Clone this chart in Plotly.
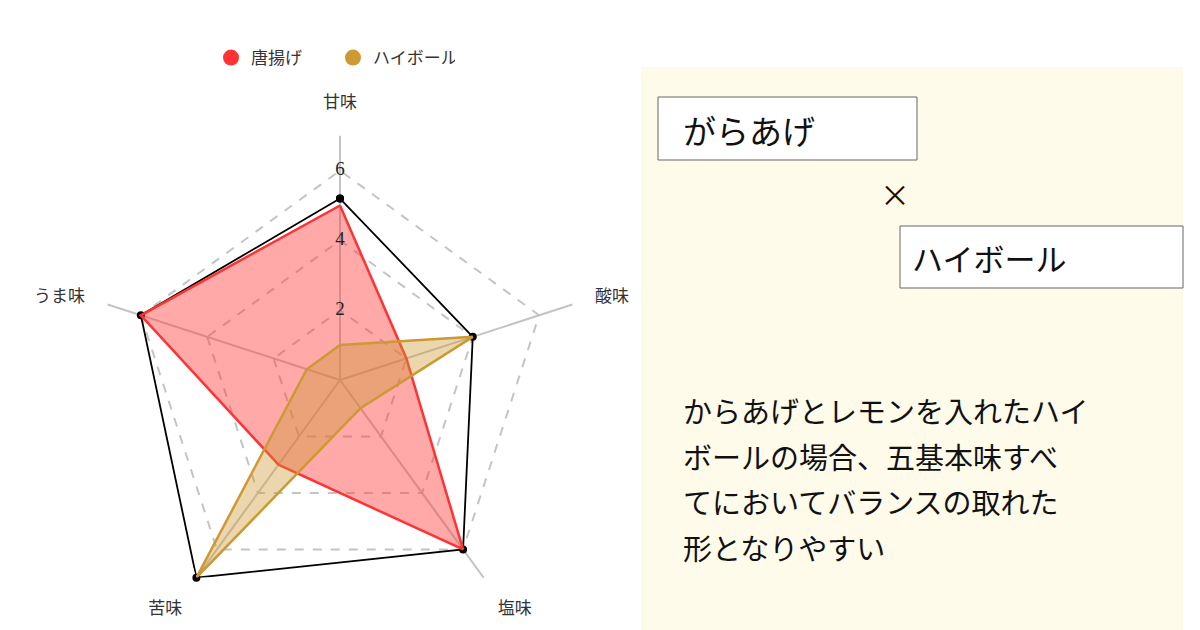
import plotly.graph_objects as go

# Data ------------------------------------------------------------------------
axes_labels = ['甘味', '酸味', '塩味', '苦味', 'うま味']
karaage = [5.0, 2.0, 6.0, 3.0, 6.0]
highball = [1.0, 4.0, 1.0, 7.0, 1.0]
outline = [5.2, 4.0, 6.0, 7.0, 6.0]
radial_ticks = [0, 2, 4, 6]
series_names = ['唐揚げ', 'ハイボール']
body_lines = [
    'からあげとレモンを入れたハイ',
    'ボールの場合、五基本味すべ',
    'てにおいてバランスの取れた',
    '形となりやすい',
]

# Style -----------------------------------------------------------------------
RED = '#ff3333'
GOLD = '#cc9933'
SERIF = 'Liberation Serif, Noto Sans CJK JP, serif'
SANS = 'Noto Sans CJK JP, sans-serif'
# page body has an 8px margin, so the figure is a bit smaller than the window
OFF = 8
W, H = 1200 - OFF, 630 - OFF


def px(x, y):
    # screen pixel -> paper coords
    return (x - OFF) / W, 1 - (y - OFF) / H


def closed(v):
    return list(v) + [v[0]]


theta = closed(axes_labels)

fig = go.Figure()
# black outline with dots
fig.add_trace(go.Scatterpolar(
    r=closed(outline), theta=theta, mode='lines+markers',
    line=dict(color='black', width=1.8),
    marker=dict(color='black', size=8),
    showlegend=False, cliponaxis=False, hoverinfo='skip'
))
fig.add_trace(go.Scatterpolar(
    r=closed(karaage), theta=theta, mode='lines', fill='toself',
    fillcolor='rgba(255,51,51,0.42)', line=dict(color=RED, width=2.5),
    name=series_names[0], legendgroup='a', showlegend=False
))
fig.add_trace(go.Scatterpolar(
    r=closed(highball), theta=theta, mode='lines', fill='toself',
    fillcolor='rgba(204,153,51,0.4)', line=dict(color=GOLD, width=2.5),
    name=series_names[1], legendgroup='b', showlegend=False
))
# legend-only dots
for nme, col, grp in zip(series_names, [RED, GOLD], ['a', 'b']):
    fig.add_trace(go.Scatterpolar(
        r=[None], theta=[axes_labels[0]], mode='markers', name=nme,
        legendgroup=grp, marker=dict(color=col, size=18)
    ))
# radial tick labels centered on the top axis
fig.add_trace(go.Scatterpolar(
    r=radial_ticks, theta=[axes_labels[0]] * len(radial_ticks),
    mode='text', text=[str(t) for t in radial_ticks],
    textfont=dict(family=SERIF, size=19, color='#222'),
    showlegend=False, hoverinfo='skip'
))

x0, y1 = px(340 - 244.3, 380 + 244.3)
x1, y0 = px(340 + 244.3, 380 - 244.3)
fig.update_layout(
    width=W, height=H,
    margin=dict(l=0, r=0, t=0, b=0),
    paper_bgcolor='white',
    font=dict(family=SERIF, size=16, color='#333'),
    polar=dict(
        domain=dict(x=[x0, x1], y=[y1, y0]),
        bgcolor='rgba(0,0,0,0)',
        gridshape='linear',
        radialaxis=dict(
            range=[0, 7], tickvals=[2, 4, 6], showticklabels=False,
            showline=False, ticks='', gridcolor='#c4c4c4',
            griddash='dash', gridwidth=1.5
        ),
        angularaxis=dict(
            direction='clockwise', rotation=90, showline=False,
            gridcolor='#c4c4c4', gridwidth=1.5,
            ticks='outside', ticklen=20, tickcolor='rgba(0,0,0,0)',
            tickfont=dict(family=SERIF, size=17, color='#333')
        ),
    ),
    legend=dict(
        orientation='h', x=px(333, 0)[0], xanchor='center',
        y=px(0, 58)[1], yanchor='middle',
        entrywidth=77, entrywidthmode='pixels',
        font=dict(family=SERIF, size=17, color='#333'),
        itemclick=False, itemdoubleclick=False
    ),
)

# right text panel ------------------------------------------------------------
shapes = []
px0, py0 = px(641, 67)
shapes.append(dict(type='rect', xref='paper', yref='paper',
                   x0=px0, x1=px(1183, 0)[0], y0=0, y1=py0,
                   fillcolor='#fffbeb', line=dict(width=0), layer='below'))
for (bx0, by0, bx1, by1) in [(658, 97, 917, 160), (900, 226, 1183, 288)]:
    a, b = px(bx0, by0)
    c, d = px(bx1, by1)
    shapes.append(dict(type='rect', xref='paper', yref='paper',
                       x0=a, x1=c, y0=d, y1=b, fillcolor='white',
                       line=dict(color='#666', width=1), layer='below'))
fig.update_layout(shapes=shapes)

annos = []
for txt, (ax_, ay_), size in [
    ('がらあげ', (681, 130), 33),
    ('ハイボール', (910, 257), 31),
]:
    a, b = px(ax_, ay_)
    annos.append(dict(text=txt, x=a, y=b, xref='paper', yref='paper',
                      xanchor='left', yanchor='middle', showarrow=False,
                      font=dict(family=SANS, size=size, color='#111')))
a, b = px(895, 193)
annos.append(dict(text='×', x=a, y=b, xref='paper', yref='paper',
                  xanchor='center', yanchor='middle', showarrow=False,
                  font=dict(family=SANS, size=30, color='#111')))
for i, line in enumerate(body_lines):
    a, b = px(681, 413 + i * 45.7)
    annos.append(dict(text=line, x=a, y=b, xref='paper', yref='paper',
                      xanchor='left', yanchor='middle', showarrow=False,
                      font=dict(family=SERIF, size=29, color='#111')))
fig.update_layout(annotations=annos)

fig.write_html('out.html')
